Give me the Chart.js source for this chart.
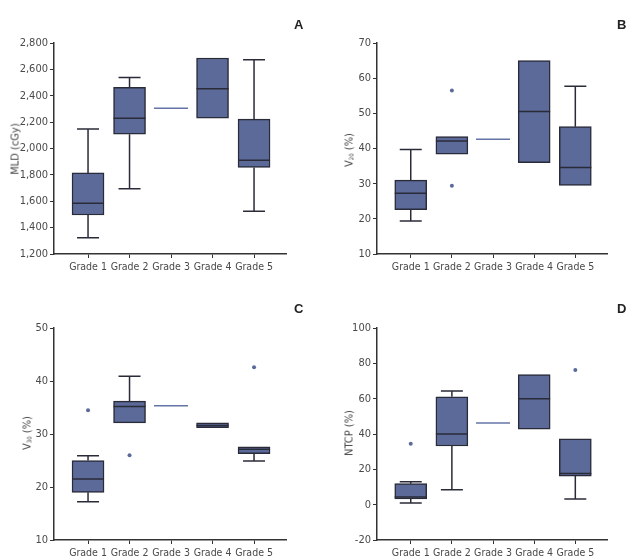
<!DOCTYPE html>
<html>
<head>
    <title>Box plots by grade</title>
    <meta charset="UTF-8">
    <script src="https://cdn.jsdelivr.net/npm/chart.js@4.4.0/dist/chart.umd.min.js"></script>
    <style>
        body { margin: 0; background: #fff; }
        .panel { position: absolute; width: 321px; height: 280px; }
        .panel canvas { position: absolute; left: 0; top: 0; }
        .letter { position: absolute; font: bold 13px "Liberation Sans", Arial, sans-serif; color: #222; }
        .ytitle { position: absolute; font: 11px "DejaVu Sans Condensed", "Liberation Sans", sans-serif; color: #444;
                  transform: translate(-50%, -50%) rotate(-90deg); white-space: nowrap; }
        .ytitle sub { font-size: 6px; vertical-align: -1px; }
    </style>
</head>
<body>
<div class="panel" style="left:0;top:0"><canvas id="chartA" width="321" height="280"></canvas>
    <div class="letter" style="left:294px;top:17px">A</div>
    <div class="ytitle" style="left:15px;top:149px">MLD (cGy)</div></div>
<div class="panel" style="left:321px;top:0"><canvas id="chartB" width="321" height="280"></canvas>
    <div class="letter" style="left:296px;top:17px">B</div>
    <div class="ytitle" style="left:28px;top:150px">V<sub>20</sub> (%)</div></div>
<div class="panel" style="left:0;top:280px"><canvas id="chartC" width="321" height="280"></canvas>
    <div class="letter" style="left:294px;top:21px">C</div>
    <div class="ytitle" style="left:27px;top:153px">V<sub>30</sub> (%)</div></div>
<div class="panel" style="left:321px;top:280px"><canvas id="chartD" width="321" height="280"></canvas>
    <div class="letter" style="left:296px;top:21px">D</div>
    <div class="ytitle" style="left:28px;top:153px">NTCP (%)</div></div>
<script>
    const grades = ['Grade 1', 'Grade 2', 'Grade 3', 'Grade 4', 'Grade 5'];

    // MLD (cGy)
    const mldMin = [1324, 1694, 2306, 2230, 1524];
    const mldQ1 = [1496, 2109, 2306, 2230, 1856];
    const mldMed = [1585, 2230, 2306, 2453, 1911];
    const mldQ3 = [1815, 2463, 2306, 2686, 2223];
    const mldMax = [2147, 2539, 2306, 2686, 2673];
    const mldOut = [];

    // V20 (%)
    const v20Min = [19.4, 38.4, 42.6, 36.0, 29.5];
    const v20Q1 = [22.6, 38.4, 42.6, 36.0, 29.5];
    const v20Med = [27.3, 42.1, 42.6, 50.5, 34.6];
    const v20Q3 = [31.0, 43.4, 42.6, 65.0, 46.2];
    const v20Max = [39.7, 43.4, 42.6, 65.0, 57.7];
    const v20Out = [[1, 56.5], [1, 29.4]];

    // V30 (%)
    const v30Min = [17.2, 32.1, 35.35, 31.2, 24.9];
    const v30Q1 = [19.0, 32.1, 35.35, 31.2, 26.3];
    const v30Med = [21.5, 35.2, 35.35, 31.6, 27.1];
    const v30Q3 = [25.0, 36.2, 35.35, 32.1, 27.6];
    const v30Max = [25.9, 40.9, 35.35, 32.1, 27.6];
    const v30Out = [[0, 34.5], [1, 26.0], [4, 42.6]];

    // NTCP (%)
    const ntcpMin = [0.9, 8.5, 46.2, 42.8, 3.2];
    const ntcpQ1 = [3.2, 33.2, 46.2, 42.8, 16.2];
    const ntcpMed = [4.3, 40.0, 46.2, 60.0, 17.7];
    const ntcpQ3 = [11.9, 61.1, 46.2, 73.6, 37.2];
    const ntcpMax = [13.0, 64.3, 46.2, 73.6, 37.2];
    const ntcpOut = [[0, 34.5], [4, 76.2]];

    const boxFill = '#5b6a99';
    const boxLine = '#2a2b38';
    const textColor = '#4a4a4a';
    const yFont = { family: '"DejaVu Sans Condensed", "Liberation Sans", sans-serif', size: 11 };
    const xFont = { family: '"DejaVu Sans Condensed", "Liberation Sans", sans-serif', size: 10.5 };

    // whiskers behind the boxes, medians on top
    const boxPlugin = {
        id: 'boxParts',
        beforeDatasetsDraw(chart) {
            const s = chart.options.plugins.boxParts;
            const x = chart.scales.x, y = chart.scales.y, ctx = chart.ctx;
            ctx.save();
            ctx.strokeStyle = boxLine;
            ctx.lineWidth = 1.5;
            for (let i = 0; i < s.med.length; i++) {
                if (s.q1[i] === s.q3[i]) continue;
                const cx = x.getPixelForValue(i);
                const half = 11;
                [[s.min[i], s.q1[i]], [s.max[i], s.q3[i]]].forEach(function (w) {
                    if (w[0] === w[1]) return;
                    const y0 = y.getPixelForValue(w[0]), y1 = y.getPixelForValue(w[1]);
                    ctx.beginPath();
                    ctx.moveTo(cx, y0); ctx.lineTo(cx, y1);
                    ctx.moveTo(cx - half, y0); ctx.lineTo(cx + half, y0);
                    ctx.stroke();
                });
            }
            ctx.restore();
        },
        afterDatasetsDraw(chart) {
            const s = chart.options.plugins.boxParts;
            const x = chart.scales.x, y = chart.scales.y, ctx = chart.ctx;
            ctx.save();
            for (let i = 0; i < s.med.length; i++) {
                const cx = x.getPixelForValue(i);
                const my = y.getPixelForValue(s.med[i]);
                ctx.beginPath();
                if (s.q1[i] === s.q3[i]) {
                    ctx.strokeStyle = '#6574a6';
                    ctx.lineWidth = 1.5;
                    ctx.moveTo(cx - 17, my); ctx.lineTo(cx + 17, my);
                } else {
                    ctx.strokeStyle = boxLine;
                    ctx.lineWidth = 1.5;
                    ctx.moveTo(cx - 16, my); ctx.lineTo(cx + 16, my);
                }
                ctx.stroke();
            }
            ctx.restore();
        }
    };

    function makeChart(id, mins, q1s, meds, q3s, maxs, outs, yMin, yMax, yStep, left, top, bottom) {
        const boxes = [];
        for (let i = 0; i < grades.length; i++) {
            if (q1s[i] !== q3s[i]) boxes.push({ x: i, y: [q1s[i], q3s[i]] });
        }
        const outliers = outs.map(function (o) { return { x: o[0], y: o[1] }; });
        return new Chart(document.getElementById(id), {
            type: 'bar',
            data: {
                datasets: [
                    {
                        type: 'bar',
                        data: boxes,
                        backgroundColor: boxFill,
                        borderColor: boxLine,
                        borderWidth: 1.5,
                        borderSkipped: false,
                        barThickness: 32
                    },
                    {
                        type: 'scatter',
                        data: outliers,
                        backgroundColor: '#5b6a99',
                        borderWidth: 0,
                        pointRadius: 2
                    }
                ]
            },
            options: {
                responsive: false,
                animation: false,
                layout: { padding: { top: top, right: 35, left: 0, bottom: 0 } },
                plugins: {
                    legend: { display: false },
                    tooltip: { enabled: false },
                    boxParts: { min: mins, q1: q1s, med: meds, q3: q3s, max: maxs }
                },
                scales: {
                    x: {
                        type: 'linear',
                        offset: false,
                        min: -0.82,
                        max: 4.77,
                        afterBuildTicks: function (axis) {
                            axis.ticks = grades.map(function (g, i) { return { value: i }; });
                        },
                        afterFit: function (axis) { axis.height = 280 - bottom; },
                        ticks: {
                            callback: function (v) { return grades[v]; },
                            color: textColor,
                            font: xFont,
                            padding: 3,
                            maxRotation: 0,
                            autoSkip: false
                        },
                        grid: { drawOnChartArea: false, drawTicks: true, tickLength: 4, color: '#333', lineWidth: 1, offset: false },
                        border: { color: '#333', width: 1.5 }
                    },
                    y: {
                        min: yMin,
                        max: yMax,
                        afterFit: function (axis) { axis.width = left; },
                        ticks: { stepSize: yStep, color: textColor, font: yFont, padding: 2 },
                        grid: { drawOnChartArea: false, drawTicks: true, tickLength: 4, color: '#333', lineWidth: 1 },
                        border: { color: '#333', width: 1.5 }
                    }
                }
            },
            plugins: [boxPlugin]
        });
    }

    makeChart('chartA', mldMin, mldQ1, mldMed, mldQ3, mldMax, mldOut, 1200, 2800, 200, 54, 43, 254);
    makeChart('chartB', v20Min, v20Q1, v20Med, v20Q3, v20Max, v20Out, 10, 70, 10, 56, 43, 254);
    makeChart('chartC', v30Min, v30Q1, v30Med, v30Q3, v30Max, v30Out, 10, 50, 10, 54, 48, 260);
    makeChart('chartD', ntcpMin, ntcpQ1, ntcpMed, ntcpQ3, ntcpMax, ntcpOut, -20, 100, 20, 56, 48, 260);
</script>
</body>
</html>
